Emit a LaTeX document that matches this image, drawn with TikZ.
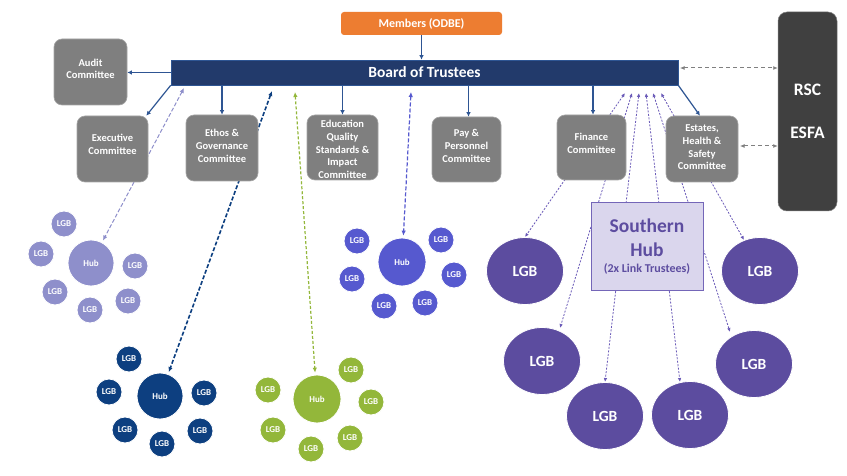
\documentclass[tikz,border=0pt]{standalone}
\usepackage{fontspec}
\setmainfont{Carlito}
\usetikzlibrary{arrows.meta,shapes.geometric}
\definecolor{orng}{HTML}{ED7D31}
\definecolor{navy}{HTML}{223A6B}
\definecolor{arrblue}{HTML}{2E5593}
\definecolor{cgray}{HTML}{7F7F7F}
\definecolor{cgrayb}{HTML}{A5A5A5}
\definecolor{dkbox}{HTML}{404040}
\definecolor{lav}{HTML}{8E8FCB}
\definecolor{blu}{HTML}{5659CF}
\definecolor{dblu}{HTML}{0D3F80}
\definecolor{grn}{HTML}{93B73A}
\definecolor{purp}{HTML}{5C4C9F}
\definecolor{shfill}{HTML}{DAD6ED}
\definecolor{shdraw}{HTML}{7466B8}
\definecolor{shtext}{HTML}{5D4DA0}
\definecolor{dline}{HTML}{808080}
\definecolor{purpline}{HTML}{6A5AB8}
\begin{document}
\begin{tikzpicture}[x=1pt,y=-1pt,
  comm/.style={rectangle, rounded corners=8pt, fill=cgray, draw=cgrayb, line width=0.6pt, inner sep=0pt},
  ctext/.style={text=white, font=\bfseries\fontsize{10.5}{12.7}\selectfont, align=center, inner sep=0pt},
  solidarr/.style={draw=arrblue, line width=1.2pt, -{Latex[length=4.5pt,width=4.5pt]}},
  grayarr/.style={draw=dline, line width=1pt, dash pattern=on 4pt off 3pt, {Latex[length=4.5pt,width=4pt]}-{Latex[length=4.5pt,width=4pt]}},
  clarr/.style={dash pattern=on 4pt off 2pt, {Latex[length=5pt,width=4.5pt]}-{Latex[length=5pt,width=4.5pt]}, shorten >=2pt},
  purparr/.style={draw=purpline, line width=0.8pt, dash pattern=on 2pt off 1.5pt, {Latex[length=4pt,width=3.5pt]}-{Latex[length=4pt,width=3.5pt]}},
  hubnode/.style={circle, minimum size=46pt, inner sep=0pt, draw=white, line width=0.8pt, text=white, font=\bfseries\fontsize{9}{10}\selectfont},
  lgbs/.style={circle, minimum size=26pt, inner sep=0pt, draw=white, line width=0.8pt, text=white, font=\bfseries\fontsize{9}{10}\selectfont},
  lgbb/.style={ellipse, minimum width=77pt, minimum height=67pt, inner sep=0pt, fill=purp, draw=white, line width=0.8pt, text=white, font=\bfseries\fontsize{15.5}{18}\selectfont}
]
\useasboundingbox (0,0) rectangle (847,476);
\fill[white] (0,0) rectangle (847,476);

% ---------- clusters (nodes) ----------
% lavender cluster
\node[hubnode, fill=lav] (lhub) at (91,263) {Hub};
\node[lgbs, fill=lav] (la1) at (64,224) {LGB};
\node[lgbs, fill=lav] (la2) at (41,254) {LGB};
\node[lgbs, fill=lav] (la3) at (135,266) {LGB};
\node[lgbs, fill=lav] (la4) at (55,292) {LGB};
\node[lgbs, fill=lav] (la5) at (90,310) {LGB};
\node[lgbs, fill=lav] (la6) at (128,301) {LGB};
% blue cluster
\node[hubnode, fill=blu, minimum size=48pt] (bhub) at (402,262) {Hub};
\node[lgbs, fill=blu] (bl1) at (357,241) {LGB};
\node[lgbs, fill=blu] (bl2) at (441,240) {LGB};
\node[lgbs, fill=blu] (bl3) at (352,279) {LGB};
\node[lgbs, fill=blu] (bl4) at (454,275) {LGB};
\node[lgbs, fill=blu] (bl5) at (384,306) {LGB};
\node[lgbs, fill=blu] (bl6) at (425,303) {LGB};
% dark blue cluster
\node[hubnode, fill=dblu] (dhub) at (160,396) {Hub};
\node[lgbs, fill=dblu] (db1) at (129,359) {LGB};
\node[lgbs, fill=dblu] (db2) at (109,392) {LGB};
\node[lgbs, fill=dblu] (db3) at (204,393) {LGB};
\node[lgbs, fill=dblu] (db4) at (125,430) {LGB};
\node[lgbs, fill=dblu] (db5) at (162,444) {LGB};
\node[lgbs, fill=dblu] (db6) at (200,431) {LGB};
% green cluster
\node[hubnode, fill=grn, minimum size=48pt] (ghub) at (317,399) {Hub};
\node[lgbs, fill=grn] (gr1) at (268,390) {LGB};
\node[lgbs, fill=grn] (gr2) at (351,370) {LGB};
\node[lgbs, fill=grn] (gr3) at (371,402) {LGB};
\node[lgbs, fill=grn] (gr4) at (273,430) {LGB};
\node[lgbs, fill=grn] (gr5) at (350,438) {LGB};
\node[lgbs, fill=grn] (gr6) at (311,449) {LGB};
% southern hub LGBs
\node[lgbb] (L1) at (525,271) {LGB};
\node[lgbb] (L2) at (542,361) {LGB};
\node[lgbb] (L3) at (605,416) {LGB};
\node[lgbb] (L4) at (690,415) {LGB};
\node[lgbb] (L5) at (754,364) {LGB};
\node[lgbb] (L6) at (760,271) {LGB};

% ---------- free ends of connectors ----------
\coordinate (lavtop) at (184,88);
\coordinate (dbtop) at (272,91);
\coordinate (grtop) at (295,92);
\coordinate (bltop) at (411,92);
\coordinate (p1t) at (625,93);
\coordinate (p2t) at (632,93);
\coordinate (p3t) at (639,93);
\coordinate (p4t) at (646,93);
\coordinate (p5t) at (653,93);
\coordinate (p6t) at (661,93);
\coordinate (p2b) at (560,328);
\coordinate (p3b) at (605,382);
\coordinate (p4b) at (680,382);
\coordinate (p5b) at (730,332);
\coordinate (p6b) at (744,240);

% ---------- dashed connectors (behind boxes) ----------
\draw[clarr, draw=lav, line width=1pt] (lavtop) -- (lhub);
\draw[clarr, draw=dblu, line width=1.6pt] (dbtop) -- (dhub);
\draw[clarr, draw=grn, line width=1.2pt, dash pattern=on 3pt off 2pt] (grtop) -- (ghub);
\draw[clarr, draw=blu, line width=1.2pt] (bltop) -- (bhub);
\draw[purparr] (p1t) -- (L1.north);
\draw[purparr] (p2t) -- (p2b);
\draw[purparr] (p3t) -- (p3b);
\draw[purparr] (p4t) -- (p4b);
\draw[purparr] (p5t) -- (p5b);
\draw[purparr] (p6t) -- (p6b);

% ---------- top boxes ----------
\node[rectangle, rounded corners=3pt, fill=orng, minimum width=161pt, minimum height=23pt, inner sep=0pt, text=white, font=\bfseries\fontsize{12}{14}\selectfont] (members) at (421.5,23.5) {Members (ODBE)};
\node[rectangle, fill=navy, draw=arrblue, line width=0.6pt, minimum width=507pt, minimum height=25pt, inner sep=0pt, text=white, font=\bfseries\fontsize{15.5}{18}\selectfont] (board) at (424.5,72.5) {Board of Trustees};
\node[rectangle, rounded corners=9pt, fill=dkbox, draw=cgray, line width=0.5pt, minimum width=59pt, minimum height=199pt, inner sep=0pt, text=white, align=center, font=\bfseries\fontsize{17.5}{21}\selectfont] (rsc) at (807.5,111.5) {RSC\\[22pt]ESFA};

% ---------- committees ----------
\node[comm, minimum width=73pt, minimum height=66pt] (audit) at (90.5,72) {};
\node[ctext] at (90.5,69) {Audit\\Committee};
\node[comm, minimum width=71pt, minimum height=66pt] (exec) at (112.5,149) {};
\node[ctext] at (112.5,144.5) {Executive\\Committee};
\node[comm, minimum width=72pt, minimum height=66pt] (ethos) at (222,148) {};
\node[ctext] at (222,146) {Ethos \&\\Governance\\Committee};
\node[comm, minimum width=71pt, minimum height=65pt] (edu) at (342.5,147.5) {};
\node[ctext] at (342.5,149.5) {Education\\Quality\\Standards \&\\Impact\\Committee};
\node[comm, minimum width=69pt, minimum height=65pt] (pay) at (466.5,149.5) {};
\node[ctext] at (466.5,146) {Pay \&\\Personnel\\Committee};
\node[comm, minimum width=69pt, minimum height=65pt] (fin) at (591.5,147.5) {};
\node[ctext] at (591.5,143.5) {Finance\\Committee};
\node[comm, minimum width=72pt, minimum height=66pt] (est) at (702,149) {};
\node[ctext] at (702,147.5) {Estates,\\Health \&\\Safety\\Committee};

% ---------- southern hub ----------
\node[rectangle, fill=shfill, draw=shdraw, line width=1pt, minimum width=112pt, minimum height=87pt, inner sep=0pt] (sh) at (647,246.5) {};
\node[text=shtext, font=\bfseries\fontsize{19.5}{22}\selectfont, inner sep=0pt] at (647,226) {Southern};
\node[text=shtext, font=\bfseries\fontsize{19.5}{22}\selectfont, inner sep=0pt] at (647,250) {Hub};
\node[text=shtext, font=\bfseries\fontsize{12}{14}\selectfont, inner sep=0pt] at (647,269) {(2x Link Trustees)};

% ---------- solid arrows ----------
\draw[solidarr] (members.south) -- (members.south |- board.north);
\draw[solidarr] (board.west) -- (audit.east |- board.west);
\draw[solidarr] (board.south west) -- ([xshift=-2pt]exec.north east);
\draw[solidarr] (ethos.north |- board.south) -- (ethos.north);
\draw[solidarr] (edu.north |- board.south) -- (edu.north);
\draw[solidarr] ([xshift=2pt]pay.north |- board.south) -- ([xshift=2pt]pay.north);
\draw[solidarr] ([xshift=1.5pt]fin.north |- board.south) -- ([xshift=1.5pt]fin.north);
\draw[solidarr] (board.south east) -- ([xshift=-2pt]est.north);

% ---------- gray dashed arrows ----------
\coordinate (g1a) at (680,68);
\coordinate (g2a) at (740,146);
\draw[grayarr] (g1a) -- (g1a -| rsc.west);
\draw[grayarr] (g2a) -- (g2a -| rsc.west);
\end{tikzpicture}
\end{document}
